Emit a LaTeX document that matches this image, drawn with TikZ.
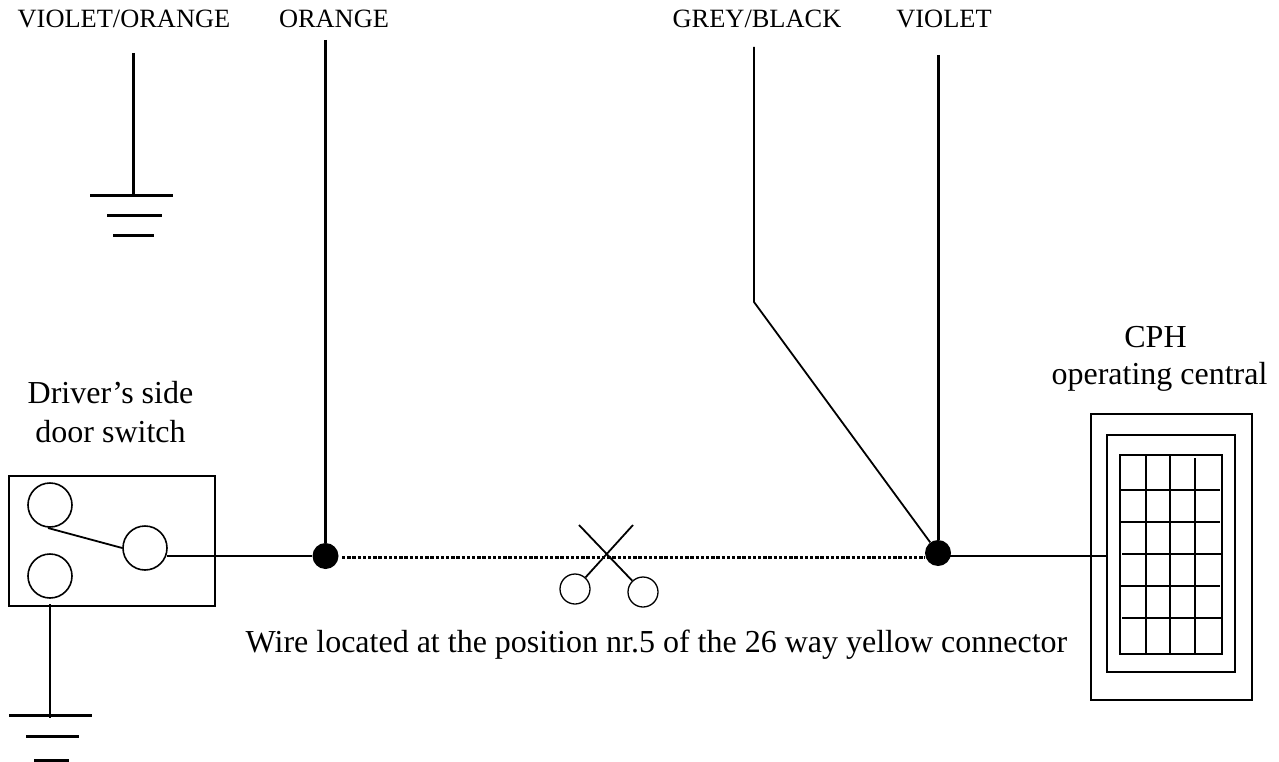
\documentclass[tikz,border=0pt]{standalone}
\usepackage{fontspec}
\setmainfont{Liberation Serif}
\tikzset{
  wire/.style={line width=1.8pt,black},
  heavy/.style={line width=3pt,black},
  pin/.style={circle,draw=black,line width=1.6pt,fill=white,inner sep=0pt,minimum size=44pt},
  snip/.style={circle,draw=black,line width=1.3pt,fill=white,inner sep=0pt,minimum size=30pt},
  junction/.style={circle,fill=black,inner sep=0pt,minimum size=26pt},
  small/.style={font=\fontsize{26.4}{30}\selectfont,inner sep=0pt,anchor=base},
  big/.style={font=\fontsize{32}{36}\selectfont,inner sep=0pt,anchor=base},
  panel/.style={draw=black,line width=2pt}
}
\begin{document}
\begin{tikzpicture}[x=1pt,y=-1pt]
\useasboundingbox (0,0) rectangle (1279,762);
\fill[white] (0,0) rectangle (1279,762);
% labels
\node[small] (l1) at (124,28) {VIOLET/ORANGE};
\node[small] (l2) at (334,28) {ORANGE};
\node[small] (l3) at (757,28) {GREY/BLACK};
\node[small] (l4) at (944,28) {VIOLET};
\node[big] (l5) at (1155.5,347) {CPH};
\node[big] (l6) at (1159.5,384) {operating central};
\node[big] (l7) at (110.5,403) {Driver’s side};
\node[big] (l8) at (110.5,442) {door switch};
\node[big] (wirelabel) at (656.5,652) {Wire located at the position nr.5 of the 26 way yellow connector};
% free wire ends
\coordinate (vo) at (133,53);
\coordinate (vob) at (133,196);
\coordinate (or) at (325.5,40);
\coordinate (gb) at (754,47);
\coordinate (gbk) at (754,302);
\coordinate (vi) at (938,55);
% junctions
\node[junction] (j1) at (325.5,556) {};
\node[junction] (j2) at (938,553) {};
% dotted wire
\coordinate (ds) at (342,557);
\coordinate (de) at (925,557);
\draw[line width=3pt,black,dash pattern=on 3.3pt off 1.9pt] (ds) -- (de);
% upper ground
\draw[heavy] (vo) -- (vob);
\draw[heavy] (90,196) -- (173,196);
\draw[heavy] (107,215) -- (162,215);
\draw[heavy] (113,235) -- (154,235);
% verticals
\draw[heavy] (or) -- (j1);
\draw[heavy] (vi) -- (j2);
\draw[wire] (gb) -- (gbk) -- (j2);
% switch
\draw[panel] (9,476) rectangle (215,606);
\node[pin] (p1) at (50,505) {};
\node[pin] (p2) at (145,548) {};
\node[pin] (p3) at (50,576) {};
\draw[wire] (48,528) -- (p2.west);
\coordinate (p2o) at (167,556);
\draw[wire] (p2o) -- (j1);
% lower ground
\coordinate (g) at (50,718);
\draw[wire] (50,604) -- (g);
\draw[heavy] (9,715) -- (92,715);
\draw[heavy] (26,736) -- (79,736);
\draw[heavy] (34,760) -- (69,760);
% scissors
\node[snip] (s1) at (575,589) {};
\node[snip] (s2) at (643,592) {};
\coordinate (b1) at (579,525);
\coordinate (b2) at (633,525);
\draw[wire] (b1) -- (s2);
\draw[wire] (b2) -- (s1);
% central unit
\draw[panel] (1091,414) rectangle (1252,700);
\draw[panel] (1107,435) rectangle (1235,672);
\draw[panel] (1120,455) rectangle (1222,654);
\draw[wire] (1146,456) -- (1146,653);
\draw[wire] (1170,456) -- (1170,653);
\draw[wire] (1195,458) -- (1195,653);
\draw[wire] (1121,490) -- (1220,490);
\draw[wire] (1121,522) -- (1220,522);
\draw[wire] (1122,554) -- (1223,554);
\draw[wire] (1121,586) -- (1220,586);
\draw[wire] (1122,618) -- (1223,618);
\coordinate (jr) at (945,556);
\coordinate (cph) at (1107,556);
\draw[wire] (jr) -- (cph);
\end{tikzpicture}
\end{document}
